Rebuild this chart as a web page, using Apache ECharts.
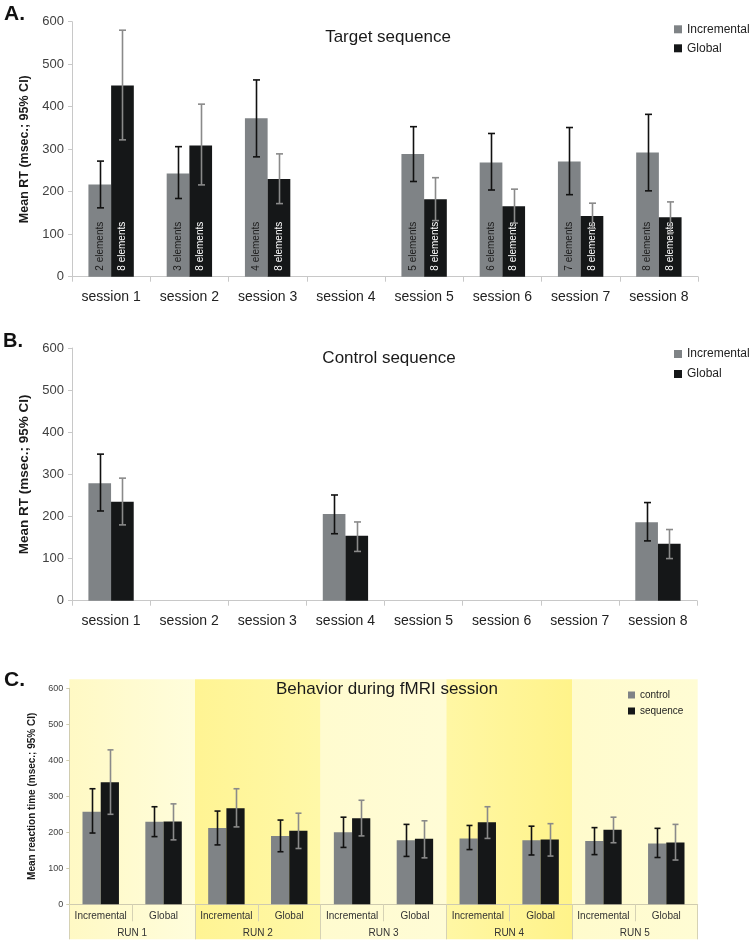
<!DOCTYPE html>
<html><head><meta charset="utf-8">
<script src="https://cdn.jsdelivr.net/npm/echarts/dist/echarts.min.js"></script>
<style>html,body{margin:0;padding:0;background:#fff}#chart{width:751px;height:942px}</style>
</head><body><div id="chart"></div>
<script>
// ---------- Panel A: Target sequence ----------
const sessions = ['session 1','session 2','session 3','session 4','session 5','session 6','session 7','session 8'];
const targetInc     = [217, 243, 373, null, 289, 269, 271, 292];
const targetIncLow  = [162, 184, 282, null, 224, 204, 193, 202];
const targetIncHigh = [272, 306, 463, null, 353, 337, 351, 382];
const targetGlob     = [450, 309, 230, null, 182, 166, 143, 140];
const targetGlobLow  = [322, 216, 172, null, 132, 126, 113, 104];
const targetGlobHigh = [580, 406, 289, null, 233, 206, 173, 176];
const targetIncLabels  = ['2 elements','3 elements','4 elements','','5 elements','6 elements','7 elements','8 elements'];
const targetGlobLabels = ['8 elements','8 elements','8 elements','','8 elements','8 elements','8 elements','8 elements'];

// ---------- Panel B: Control sequence ----------
const controlInc     = [279, null, null, 206, null, null, null, 186];
const controlIncLow  = [213, null, null, 159, null, null, null, 142];
const controlIncHigh = [348, null, null, 251, null, null, null, 233];
const controlGlob     = [235, null, null, 154, null, null, null, 135];
const controlGlobLow  = [180, null, null, 117, null, null, null, 100];
const controlGlobHigh = [291, null, null, 187, null, null, null, 169];

// ---------- Panel C: Behavior during fMRI session ----------
const fmriCats = ['Incremental','Global','Incremental','Global','Incremental','Global','Incremental','Global','Incremental','Global'];
const runs = ['RUN 1','RUN 2','RUN 3','RUN 4','RUN 5'];
const fmriControl     = [257, 229, 212, 190, 200, 178, 183, 178, 176, 169];
const fmriControlLow  = [198, 188, 165, 146, 158, 133, 152, 137, 138, 130];
const fmriControlHigh = [321, 271, 259, 234, 242, 222, 219, 217, 213, 211];
const fmriSeq     = [339, 230, 267, 204, 239, 182, 228, 180, 207, 172];
const fmriSeqLow  = [250, 179, 215, 155, 190, 129, 183, 134, 171, 123];
const fmriSeqHigh = [429, 279, 321, 253, 289, 232, 271, 224, 242, 222];

const yTicks = [0, 100, 200, 300, 400, 500, 600];

const FONT = '"Liberation Sans", Arial, Helvetica, sans-serif';
const GRAY = '#7f8386', BLACK = '#151718';
const AXIS = '#c8c8c8';

function barData(vals){ return vals.map(v => v == null ? '-' : v); }
function errData(lo, hi){ const out = []; lo.forEach((l, i) => { if (l != null && hi[i] != null) out.push([i, l, hi[i]]); }); return out; }
function errSeries(xi, yi, lo, hi, side, color, cap){
  return {
    type: 'custom', xAxisIndex: xi, yAxisIndex: yi, silent: true, z: 5,
    data: errData(lo, hi), encode: { x: 0, y: [1, 2] },
    renderItem: function(params, api){
      const x = api.value(0);
      const pLo = api.coord([x, api.value(1)]);
      const pHi = api.coord([x, api.value(2)]);
      const band = api.size([1, 0])[0];
      const cx = Math.round(pLo[0] + side * band * 0.145) + 0.5;
      const st = { stroke: color, lineWidth: 1.6 };
      return { type: 'group', children: [
        { type: 'line', shape: { x1: cx, y1: pLo[1], x2: cx, y2: pHi[1] }, style: st },
        { type: 'line', shape: { x1: cx - cap, y1: pHi[1], x2: cx + cap, y2: pHi[1] }, style: st },
        { type: 'line', shape: { x1: cx - cap, y1: pLo[1], x2: cx + cap, y2: pLo[1] }, style: st }
      ]};
    }
  };
}
function valueAxis(gi, name, opts){
  return Object.assign({
    gridIndex: gi, type: 'value', min: yTicks[0], max: yTicks[yTicks.length - 1], interval: 100,
    axisLine: { show: true, lineStyle: { color: AXIS } },
    axisTick: { show: true, length: 4, lineStyle: { color: AXIS } },
    splitLine: { show: false },
    axisLabel: { fontSize: 13, color: '#404040', margin: 8, fontFamily: FONT },
    name: name, nameLocation: 'middle', nameGap: 38,
    nameTextStyle: { fontWeight: 'bold', fontSize: 12.5, color: '#1a1a1a', fontFamily: FONT }
  }, opts || {});
}
function sessionAxis(gi){
  return {
    gridIndex: gi, type: 'category', data: sessions,
    axisLine: { lineStyle: { color: AXIS } },
    axisTick: { show: true, length: 5, lineStyle: { color: AXIS } },
    axisLabel: { fontSize: 14, color: '#222', margin: 13, fontFamily: FONT, interval: 0 }
  };
}
function barLabel(labels, color){
  return { show: true, position: 'insideBottom', rotate: 90, align: 'left', verticalAlign: 'middle',
    distance: 6, fontFamily: FONT, fontSize: 10, color: color,
    formatter: p => labels[p.dataIndex] };
}

const shade = (a, b) => ({ type: 'linear', x: 0, y: 0, x2: 1, y2: 0,
  colorStops: [{ offset: 0, color: a }, { offset: 1, color: b }] });
const runFills = [shade('#fff9c4', '#fffddc'), shade('#fff493', '#fff8a8'), shade('#fffbcf', '#fffcd6'),
                  shade('#fff7a4', '#fff38a'), shade('#fffbcc', '#fffcd4')];

const option = {
  animation: false,
  backgroundColor: '#ffffff',
  textStyle: { fontFamily: FONT },
  grid: [
    { left: 72, top: 21.7, width: 626, height: 255 },
    { left: 72, top: 348, width: 625, height: 252.7 },
    { left: 69.3, top: 688.3, width: 628.4, height: 216 },
    { left: 69.3, top: 679.3, width: 628.4, height: 260 }
  ],
  xAxis: [
    sessionAxis(0),
    sessionAxis(1),
    { gridIndex: 2, type: 'category', data: fmriCats,
      axisLine: { lineStyle: { color: '#cfcbb0' } },
      axisTick: { show: true, length: 17, lineStyle: { color: '#d6d2b4' } },
      axisLabel: { fontSize: 10, color: '#333', margin: 7, fontFamily: FONT, interval: 0 } },
    { gridIndex: 2, type: 'category', data: runs, position: 'bottom',
      axisLine: { show: false },
      axisTick: { show: true, length: 35, lineStyle: { color: '#d6d2b4' } },
      axisLabel: { fontSize: 10, color: '#333', margin: 24, fontFamily: FONT, interval: 0 } },
    { gridIndex: 3, type: 'category', data: runs, show: false }
  ],
  yAxis: [
    valueAxis(0, 'Mean RT (msec.; 95% CI)'),
    valueAxis(1, 'Mean RT (msec.; 95% CI)', { nameTextStyle: { fontWeight: 'bold', fontSize: 13.5, color: '#1a1a1a', fontFamily: FONT }, nameGap: 38 }),
    valueAxis(2, 'Mean reaction time (msec.; 95% CI)', {
      axisLine: { show: true, lineStyle: { color: '#d0ccb0' } },
      axisTick: { show: true, length: 3, lineStyle: { color: '#d0ccb0' } },
      axisLabel: { fontSize: 9, color: '#404040', margin: 6, fontFamily: FONT },
      nameGap: 28,
      nameTextStyle: { fontWeight: 'bold', fontSize: 10, color: '#1a1a1a', fontFamily: FONT } }),
    { gridIndex: 3, type: 'value', min: 0, max: 1, show: false }
  ],
  legend: [
    { data: ['Incremental', 'Global'], orient: 'vertical', left: 674, top: 23.3, padding: 0,
      itemWidth: 8, itemHeight: 8, itemGap: 7, icon: 'rect', selectedMode: false,
      textStyle: { fontSize: 12, color: '#222', fontFamily: FONT } },
    { data: ['Incremental', 'Global'], orient: 'vertical', left: 674, top: 348, padding: 0,
      itemWidth: 8, itemHeight: 8, itemGap: 8, icon: 'rect', selectedMode: false,
      textStyle: { fontSize: 12, color: '#222', fontFamily: FONT } },
    { data: ['control', 'sequence'], orient: 'vertical', left: 628, top: 690, padding: 0,
      itemWidth: 7, itemHeight: 7, itemGap: 6, icon: 'rect', selectedMode: false,
      textStyle: { fontSize: 10, color: '#222', fontFamily: FONT } }
  ],
  graphic: [
    { type: 'text', x: 4, y: 14, style: { text: 'A.', fontSize: 21, fontWeight: 'bold', fontFamily: FONT, fill: '#111', align: 'left', verticalAlign: 'middle' } },
    { type: 'text', x: 3, y: 341.5, style: { text: 'B.', fontSize: 20, fontWeight: 'bold', fontFamily: FONT, fill: '#111', align: 'left', verticalAlign: 'middle' } },
    { type: 'text', x: 4, y: 680.5, style: { text: 'C.', fontSize: 21, fontWeight: 'bold', fontFamily: FONT, fill: '#111', align: 'left', verticalAlign: 'middle' } },
    { type: 'text', x: 388, y: 37, style: { text: 'Target sequence', fontSize: 17, fontFamily: FONT, fill: '#1a1a1a', align: 'center', verticalAlign: 'middle' } },
    { type: 'text', x: 389, y: 358, style: { text: 'Control sequence', fontSize: 17, fontFamily: FONT, fill: '#1a1a1a', align: 'center', verticalAlign: 'middle' } },
    { type: 'text', x: 387, y: 689, z: 10, style: { text: 'Behavior during fMRI session', fontSize: 17, fontFamily: FONT, fill: '#1a1a1a', align: 'center', verticalAlign: 'middle' } }
  ],
  series: [
    // background shading of panel C runs
    { type: 'bar', xAxisIndex: 4, yAxisIndex: 3, silent: true, z: -1, barCategoryGap: '0%',
      data: runs.map((r, i) => ({ value: 1, itemStyle: { color: runFills[i] } })) },
    // Panel A
    { type: 'bar', name: 'Incremental', xAxisIndex: 0, yAxisIndex: 0, data: barData(targetInc),
      barWidth: '29%', barGap: '0%', itemStyle: { color: GRAY }, label: barLabel(targetIncLabels, '#1c1c1c') },
    { type: 'bar', name: 'Global', xAxisIndex: 0, yAxisIndex: 0, data: barData(targetGlob),
      barWidth: '29%', barGap: '0%', itemStyle: { color: BLACK }, label: barLabel(targetGlobLabels, '#ffffff') },
    errSeries(0, 0, targetIncLow, targetIncHigh, -1, '#111111', 3.5),
    errSeries(0, 0, targetGlobLow, targetGlobHigh, 1, '#8a8a8a', 3.5),
    // Panel B
    { type: 'bar', name: 'Incremental', xAxisIndex: 1, yAxisIndex: 1, data: barData(controlInc),
      barWidth: '29%', barGap: '0%', itemStyle: { color: GRAY } },
    { type: 'bar', name: 'Global', xAxisIndex: 1, yAxisIndex: 1, data: barData(controlGlob),
      barWidth: '29%', barGap: '0%', itemStyle: { color: BLACK } },
    errSeries(1, 1, controlIncLow, controlIncHigh, -1, '#111111', 3.5),
    errSeries(1, 1, controlGlobLow, controlGlobHigh, 1, '#8a8a8a', 3.5),
    // Panel C
    { type: 'bar', name: 'control', xAxisIndex: 2, yAxisIndex: 2, data: barData(fmriControl),
      barWidth: '29%', barGap: '0%', itemStyle: { color: GRAY } },
    { type: 'bar', name: 'sequence', xAxisIndex: 2, yAxisIndex: 2, data: barData(fmriSeq),
      barWidth: '29%', barGap: '0%', itemStyle: { color: BLACK } },
    errSeries(2, 2, fmriControlLow, fmriControlHigh, -1, '#111111', 3),
    errSeries(2, 2, fmriSeqLow, fmriSeqHigh, 1, '#8a8a8a', 3)
  ]
};

const chart = echarts.init(document.getElementById('chart'), null, { renderer: 'canvas' });
chart.setOption(option);
</script>
</body></html>
